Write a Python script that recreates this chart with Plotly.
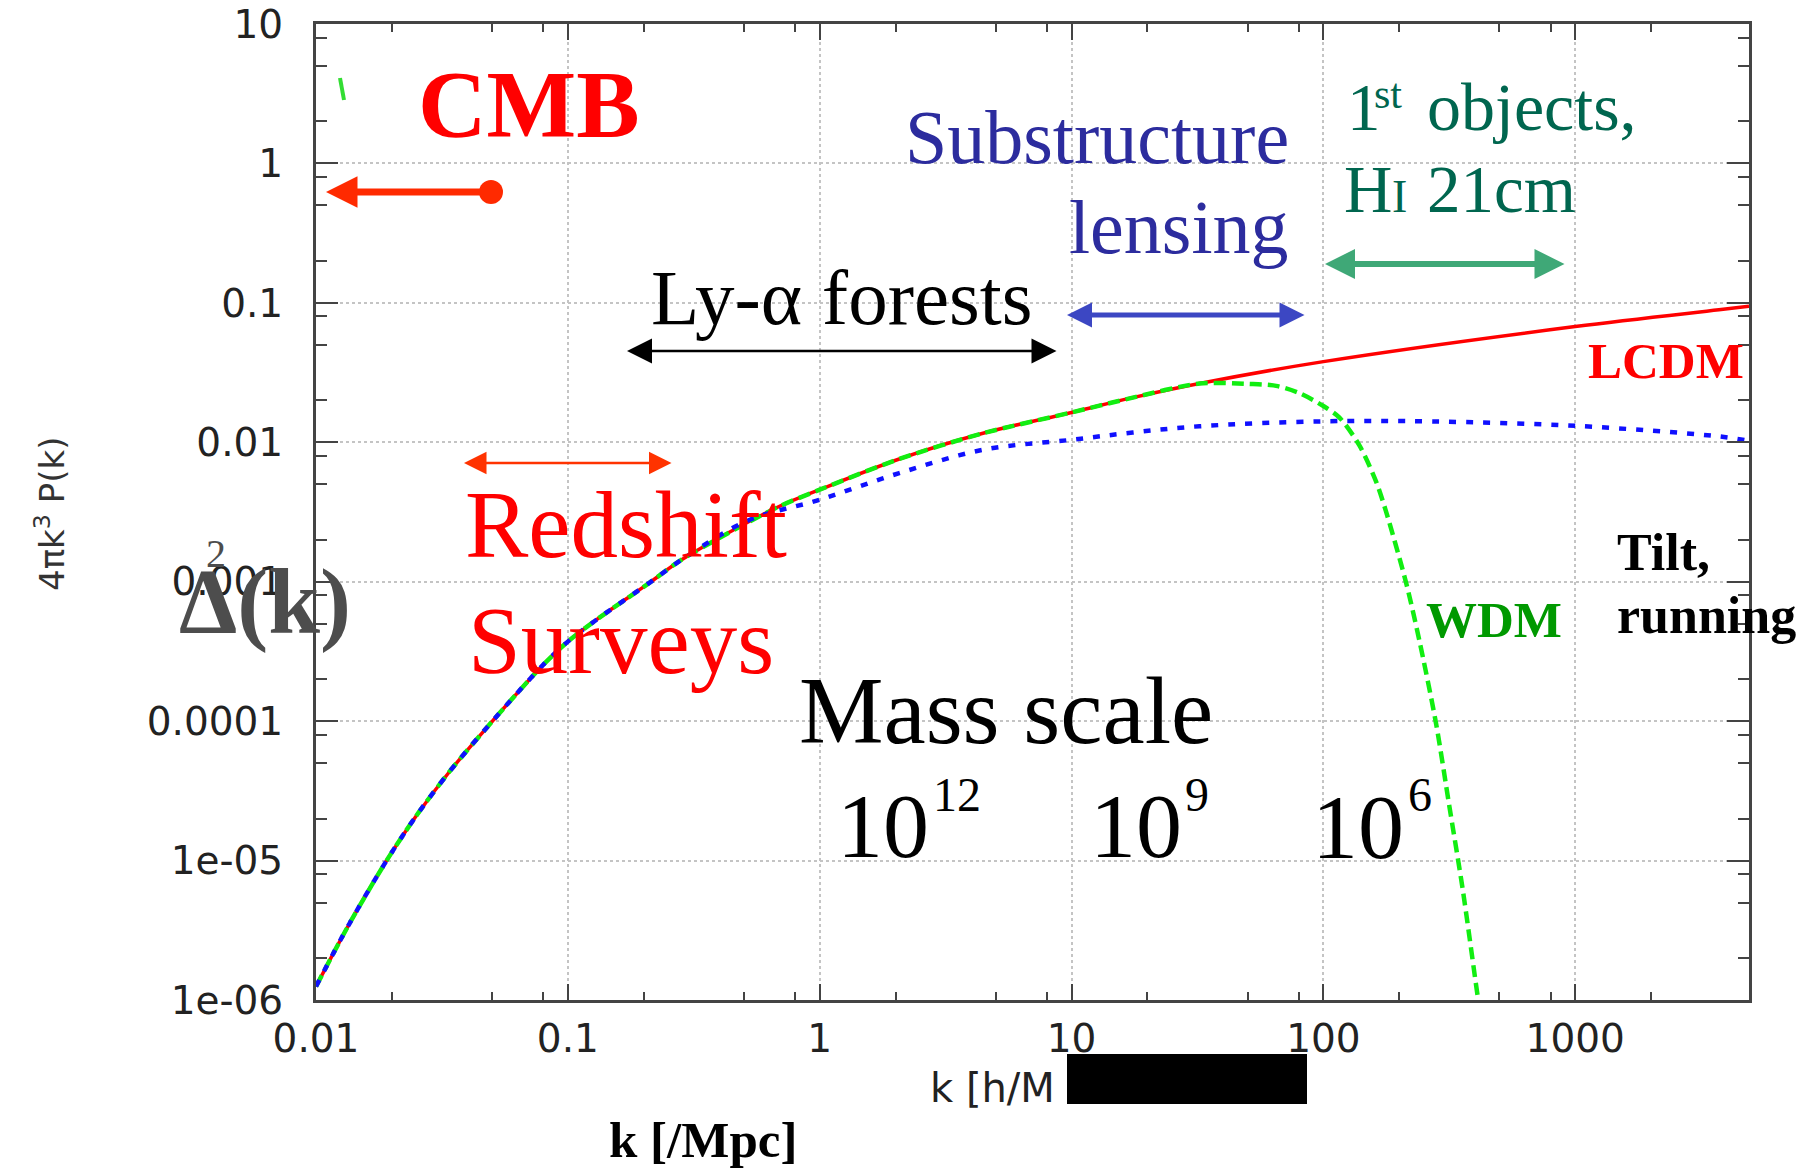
import plotly.graph_objects as go

# ---------------- data ----------------
k_lcdm = [0.01, 0.0136, 0.0192, 0.0249, 0.0338, 0.0502, 0.0794, 0.1, 0.133, 0.21, 0.285,
          0.673, 1.0, 2.07, 4.45, 10, 17.5, 32.2, 100, 1000, 3720, 4900]
d_lcdm = [1.25e-6, 3.55e-6, 1.02e-5, 2.07e-5, 4.32e-5, 1.0e-4, 2.51e-4, 3.72e-4, 5.5e-4, 9.77e-4, 1.45e-3,
          3.39e-3, 4.57e-3, 7.59e-3, 0.0116, 0.01637, 0.0209, 0.0264, 0.0379, 0.0676, 0.0891, 0.0944]

k_blue = [0.01, 0.0136, 0.0192, 0.0249, 0.0338, 0.0502, 0.0794, 0.1, 0.133, 0.21, 0.285,
          0.52, 1.0, 2.07, 4.45, 10, 17.5, 32.2, 100, 271, 1000, 3720, 4900]
d_blue = [1.25e-6, 3.55e-6, 1.02e-5, 2.07e-5, 4.32e-5, 1.0e-4, 2.51e-4, 3.72e-4, 5.5e-4, 9.77e-4, 1.45e-3,
          2.75e-3, 3.87e-3, 6.01e-3, 8.83e-3, 0.01042, 0.01175, 0.01303, 0.01413, 0.0141, 0.01312, 0.01102, 0.01023]

k_wdm = [0.01, 0.0136, 0.0192, 0.0249, 0.0338, 0.0502, 0.0794, 0.1, 0.133, 0.21, 0.285,
         0.673, 1.0, 2.07, 4.45, 10, 17.5, 32.2, 50.8, 64.9, 80.4, 100, 115.6, 139, 161.8,
         177.4, 212.8, 240.4, 279.9, 316.2, 357.3, 410, 420]
d_wdm = [1.25e-6, 3.55e-6, 1.02e-5, 2.07e-5, 4.32e-5, 1.0e-4, 2.51e-4, 3.72e-4, 5.5e-4, 9.77e-4, 1.45e-3,
         3.39e-3, 4.57e-3, 7.59e-3, 0.0116, 0.01637, 0.0209, 0.0264, 0.0262, 0.0254, 0.0225, 0.0182, 0.0151,
         0.0095, 0.00525, 0.00318, 9.9e-4, 3.8e-4, 9.7e-5, 2.47e-5, 6.25e-6, 1.06e-6, 8e-7]

x_tickvals = [0.01, 0.1, 1, 10, 100, 1000]
x_ticktext = ["0.01", "0.1", "1", "10", "100", "1000"]
y_tickvals = [1e-6, 1e-5, 1e-4, 1e-3, 1e-2, 1e-1, 1, 10]
y_ticktext = ["1e-06", "1e-05", "0.0001", "0.001", "0.01", "0.1", "1", "10"]
minor_steps = [2, 5, 8]
x_decades = [0.01, 0.1, 1, 10, 100, 1000]
y_decades = [1e-6, 1e-5, 1e-4, 1e-3, 1e-2, 1e-1, 1]

# ---------------- layout geometry ----------------
W, H = 1803, 1168
L, R, T, B = 316, 1749, 24, 1000


def px(x):
    return (x - L) / (R - L)


def py(y):
    return (B - y) / (B - T)


SERIF = "Liberation Serif"
SANS = "DejaVu Sans"

minor_x = [d * m for d in x_decades for m in minor_steps]
minor_y = [d * m for d in y_decades for m in minor_steps]

fig = go.Figure()
fig.add_trace(go.Scatter(x=k_lcdm, y=d_lcdm, mode="lines",
                         line=dict(color="#ff0000", width=3.5, shape="spline", smoothing=1.0)))
fig.add_trace(go.Scatter(x=k_wdm, y=d_wdm, mode="lines",
                         line=dict(color="#11ee11", width=4.5, dash="12px,6px", shape="spline", smoothing=0.8)))
fig.add_trace(go.Scatter(x=k_blue, y=d_blue, mode="lines",
                         line=dict(color="#1010ff", width=4.5, dash="7px,10px", shape="spline", smoothing=1.0)))


def label(text, x, base, size, color, bold=False, anchor="left", family=SERIF):
    return dict(text=text, xref="paper", yref="paper", x=px(x), y=py(base - 0.3375 * size),
                xanchor=anchor, yanchor="middle", showarrow=False, borderpad=0,
                font=dict(family=family, size=size, color=color,
                          weight="bold" if bold else "normal"))


def arrow(x_head, x_tail, y, color, width, size, both=True):
    return dict(text="", xref="paper", yref="paper", x=px(x_head), y=py(y),
                axref="pixel", ayref="pixel", ax=x_tail - x_head, ay=0,
                showarrow=True, arrowhead=2, startarrowhead=2,
                arrowsize=size, startarrowsize=size, arrowwidth=width, arrowcolor=color,
                arrowside="end+start" if both else "end", standoff=0, startstandoff=0)


ann = [
    label("CMB", 417, 137, 95, "#ff0000", bold=True),
    label("Ly-\u03b1 forests", 650, 324, 79, "#000000"),
    label("Substructure", 1290, 163, 76, "#2c2c9e", anchor="right"),
    label("lensing", 1290, 253, 76, "#2c2c9e", anchor="right"),
    label("1", 1346, 130, 67, "#00664f"),
    label("st", 1373, 108, 42, "#00664f"),
    label("objects,", 1426, 130, 68, "#00664f"),
    label("H", 1343, 212, 67, "#00664f"),
    label("I", 1391, 212, 46, "#00664f"),
    label("21cm", 1426, 212, 67, "#00664f"),
    label("LCDM", 1587, 378, 51, "#ff0000", bold=True),
    label("WDM", 1425, 637, 51, "#009900", bold=True),
    label("Tilt,", 1616, 570, 52, "#000000", bold=True),
    label("running", 1616, 633, 52, "#000000", bold=True),
    label("Redshift", 464, 557, 95, "#ff0000"),
    label("Surveys", 467, 673, 95, "#ff0000"),
    label("\u0394(k)", 178, 633, 93, "#4d4d4d", bold=True),
    label("2", 205, 567, 40, "#4d4d4d"),
    label("Mass scale", 798, 743, 95, "#000000"),
    label("10", 930, 857, 92, "#000000", anchor="right"),
    label("12", 932, 811, 48, "#000000"),
    label("10", 1183, 857, 92, "#000000", anchor="right"),
    label("9", 1184, 811, 48, "#000000"),
    label("10", 1405, 858, 92, "#000000", anchor="right"),
    label("6", 1407, 811, 48, "#000000"),
    label("k [/Mpc]", 703, 1157, 51, "#000000", bold=True, anchor="center"),
    label("k [h/M", 929, 1101, 40, "#222222", family=SANS),
    dict(text="4\u03c0k<sup>3</sup> P(k)", xref="paper", yref="paper", x=px(50), y=py(514),
         xanchor="center", yanchor="middle", textangle=-90, showarrow=False,
         font=dict(family=SANS, size=34, color="#333333")),
    arrow(326, 491, 192, "#ff2a00", 7, 0.9, both=False),
    arrow(627, 1058, 351, "#000000", 2.5, 2.0),
    arrow(1067, 1306, 315, "#3c47c3", 5, 1.0),
    arrow(1325, 1566, 264, "#3fa877", 6, 1.0),
    arrow(464, 673, 463, "#ff3300", 2.5, 1.8),
]

shapes = [
    # white label box that hides the grid in the upper-left corner
    dict(type="rect", xref="paper", yref="paper", layer="between",
         x0=px(319), x1=px(900), y0=py(192), y1=py(27),
         fillcolor="white", line=dict(width=0)),
    # CMB end dot
    dict(type="circle", xref="paper", yref="paper",
         x0=px(479), x1=px(503), y0=py(204), y1=py(180),
         fillcolor="#ff2a00", line=dict(width=0)),
    # small green mark near the top-left
    dict(type="line", xref="paper", yref="paper",
         x0=px(340), x1=px(344), y0=py(78), y1=py(100),
         line=dict(color="#33dd33", width=4)),
    # black redaction box on the axis title
    dict(type="rect", xref="paper", yref="paper",
         x0=px(1067), x1=px(1307), y0=py(1104), y1=py(1054),
         fillcolor="black", line=dict(width=0)),
]

axis_common = dict(
    type="log", showline=True, linecolor="#444444", linewidth=3, mirror="ticks",
    ticks="inside", tickwidth=2, tickcolor="#444444", automargin=False,
    showgrid=True, gridcolor="#c4c4c4", griddash="dot", gridwidth=2, zeroline=False,
    tickfont=dict(family=SANS, size=39, color="#222222"),
)

fig.update_layout(
    width=W, height=H, showlegend=False,
    margin=dict(l=L, r=W - R, t=T, b=H - B, pad=0, autoexpand=False),
    paper_bgcolor="white", plot_bgcolor="white",
    xaxis=dict(axis_common, range=[-2, 3.69], tickmode="array", tickvals=x_tickvals,
               ticktext=x_ticktext, ticklen=16, ticklabelstandoff=2,
               minor=dict(tickvals=minor_x, ticks="inside", ticklen=8, tickwidth=2,
                          tickcolor="#444444", showgrid=False)),
    yaxis=dict(axis_common, range=[-6, 1], tickmode="array", tickvals=y_tickvals,
               ticktext=y_ticktext, ticklen=22, ticklabelstandoff=22,
               minor=dict(tickvals=minor_y, ticks="inside", ticklen=11, tickwidth=2,
                          tickcolor="#444444", showgrid=False)),
    annotations=ann,
    shapes=shapes,
)

fig.write_html("out.html")
